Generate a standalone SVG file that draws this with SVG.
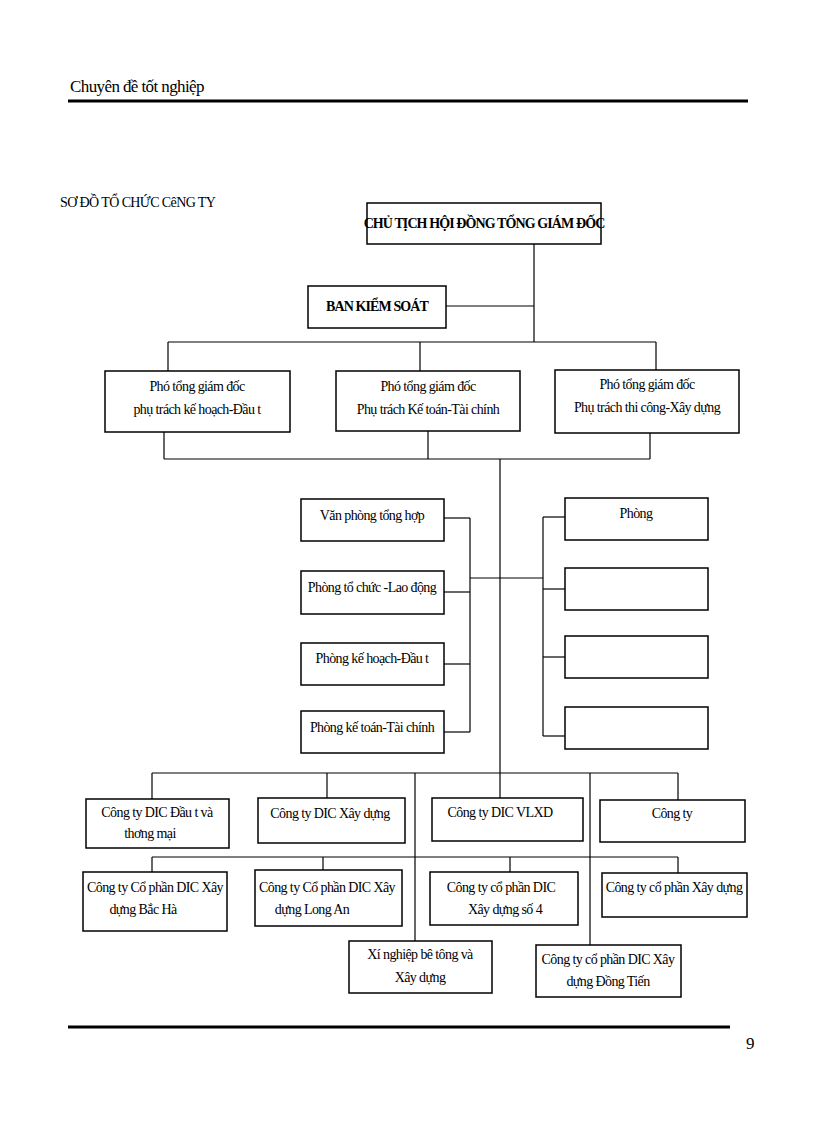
<svg xmlns="http://www.w3.org/2000/svg" width="816" height="1123" viewBox="0 0 816 1123">
<style>
text{font-family:"Liberation Serif",serif;font-size:14px;fill:#000;letter-spacing:-0.6px}
.c{text-anchor:middle}
.b{font-weight:bold;font-size:14px;letter-spacing:-0.9px}
.h{font-family:"Liberation Serif",serif;font-size:17px}
rect{fill:#fff;stroke:#000;stroke-width:1.5}
#conn line{stroke:#000;stroke-width:1.2}
</style>
<rect x="0" y="0" width="816" height="1123" style="stroke:none"/>
<text class="h" x="70" y="92">Chuyên đề tốt nghiệp</text>
<line x1="68" y1="101" x2="748" y2="101" stroke="#000" stroke-width="3"/>
<text x="60" y="207">SƠ ĐỒ TỔ CHỨC CêNG TY</text>
<line x1="68" y1="1027" x2="730" y2="1027" stroke="#000" stroke-width="3"/>
<text class="h" x="746" y="1049">9</text>
<g id="conn">
<line x1="534" y1="244" x2="534" y2="342"/><line x1="446" y1="306" x2="534" y2="306"/>
<line x1="168" y1="342" x2="656" y2="342"/>
<line x1="168" y1="342" x2="168" y2="371"/><line x1="420" y1="342" x2="420" y2="371"/><line x1="656" y1="342" x2="656" y2="370"/>
<line x1="164" y1="432" x2="164" y2="459"/><line x1="428" y1="431" x2="428" y2="459"/><line x1="650" y1="433" x2="650" y2="459"/>
<line x1="164" y1="459" x2="650" y2="459"/><line x1="500" y1="459" x2="500" y2="798"/>
<line x1="444" y1="518" x2="470" y2="518"/><line x1="444" y1="592" x2="470" y2="592"/><line x1="444" y1="664" x2="470" y2="664"/><line x1="444" y1="732" x2="470" y2="732"/>
<line x1="470" y1="518" x2="470" y2="732"/><line x1="470" y1="578" x2="543" y2="578"/>
<line x1="543" y1="517" x2="543" y2="736"/>
<line x1="543" y1="517" x2="565" y2="517"/><line x1="543" y1="589" x2="565" y2="589"/><line x1="543" y1="657" x2="565" y2="657"/><line x1="543" y1="736" x2="565" y2="736"/>
<line x1="152" y1="773" x2="678" y2="773"/>
<line x1="152" y1="773" x2="152" y2="799"/><line x1="327" y1="773" x2="327" y2="798"/><line x1="678" y1="773" x2="678" y2="800"/>
<line x1="415" y1="773" x2="415" y2="941"/><line x1="590" y1="773" x2="590" y2="945"/>
<line x1="152" y1="857" x2="678" y2="857"/>
<line x1="152" y1="857" x2="152" y2="872"/><line x1="323" y1="857" x2="323" y2="870"/><line x1="510" y1="857" x2="510" y2="872"/><line x1="678" y1="857" x2="678" y2="873"/>
</g>
<g id="n1"><rect x="367" y="203" width="234" height="41"/><text class="c b" x="484" y="228">CHỦ TỊCH HỘI ĐỒNG TỔNG GIÁM ĐỐC</text></g>
<g id="n2"><rect x="308" y="286" width="138" height="42"/><text class="c b" x="377" y="311">BAN KIỂM SOÁT</text></g>
<g id="n3"><rect x="105" y="371" width="185" height="61"/><text class="c" x="197" y="391">Phó tổng giám đốc</text><text class="c" x="197" y="414">phụ trách  kế hoạch-Đầu t</text></g>
<g id="n4"><rect x="336" y="371" width="184" height="60"/><text class="c" x="428" y="391">Phó tổng giám đốc</text><text class="c" x="428" y="414">Phụ trách Kế toán-Tài chính</text></g>
<g id="n5"><rect x="555" y="370" width="184" height="63"/><text class="c" x="647" y="389">Phó tổng giám đốc</text><text class="c" x="647" y="412">Phụ trách thi công-Xây dựng</text></g>
<g id="n6"><rect x="301" y="499" width="143" height="42"/><text class="c" x="372" y="520">Văn phòng tổng hợp</text></g>
<g id="n7"><rect x="301" y="571" width="143" height="43"/><text class="c" x="372" y="592">Phòng tổ chức -Lao động</text></g>
<g id="n8"><rect x="301" y="643" width="143" height="42"/><text class="c" x="372" y="663">Phòng kế hoạch-Đầu t</text></g>
<g id="n9"><rect x="301" y="711" width="143" height="42"/><text class="c" x="372" y="732">Phòng kế toán-Tài chính</text></g>
<g id="n10"><rect x="565" y="498" width="143" height="42"/><text class="c" x="636" y="518">Phòng</text></g>
<g id="n11"><rect x="565" y="568" width="143" height="42"/></g>
<g id="n12"><rect x="565" y="636" width="143" height="42"/></g>
<g id="n13"><rect x="565" y="707" width="143" height="42"/></g>
<g id="n14"><rect x="86" y="799" width="143" height="49"/><text class="c" x="157" y="817">Công ty DIC Đầu t   và</text><text class="c" x="150" y="838">thơng   mại</text></g>
<g id="n15"><rect x="258" y="798" width="147" height="45"/><text class="c" x="330" y="818">Công ty DIC Xây dựng</text></g>
<g id="n16"><rect x="432" y="798" width="151" height="43"/><text class="c" x="500" y="817">Công ty DIC VLXD</text></g>
<g id="n17"><rect x="600" y="800" width="145" height="42"/><text class="c" x="672" y="818">Công ty</text></g>
<g id="n18"><rect x="83" y="872" width="144" height="59"/><text class="c" x="155" y="892">Công ty Cổ phần DIC Xây</text><text class="c" x="143" y="914">dựng Bắc Hà</text></g>
<g id="n19"><rect x="255" y="870" width="147" height="56"/><text class="c" x="327" y="892">Công ty Cổ phần DIC Xây</text><text class="c" x="312" y="914">dựng Long An</text></g>
<g id="n20"><rect x="430" y="872" width="148" height="53"/><text class="c" x="501" y="892">Công ty cổ phần DIC</text><text class="c" x="505" y="914">Xây dựng số 4</text></g>
<g id="n21"><rect x="602" y="873" width="145" height="44"/><text class="c" x="674" y="892">Công ty cổ phần Xây dựng</text></g>
<g id="n22"><rect x="349" y="941" width="143" height="52"/><text class="c" x="420" y="959">Xí nghiệp bê tông và</text><text class="c" x="420" y="982">Xây dựng</text></g>
<g id="n23"><rect x="536" y="945" width="145" height="52"/><text class="c" x="608" y="964">Công ty cổ phần DIC Xây</text><text class="c" x="608" y="986">dựng Đồng Tiến</text></g>
</svg>
